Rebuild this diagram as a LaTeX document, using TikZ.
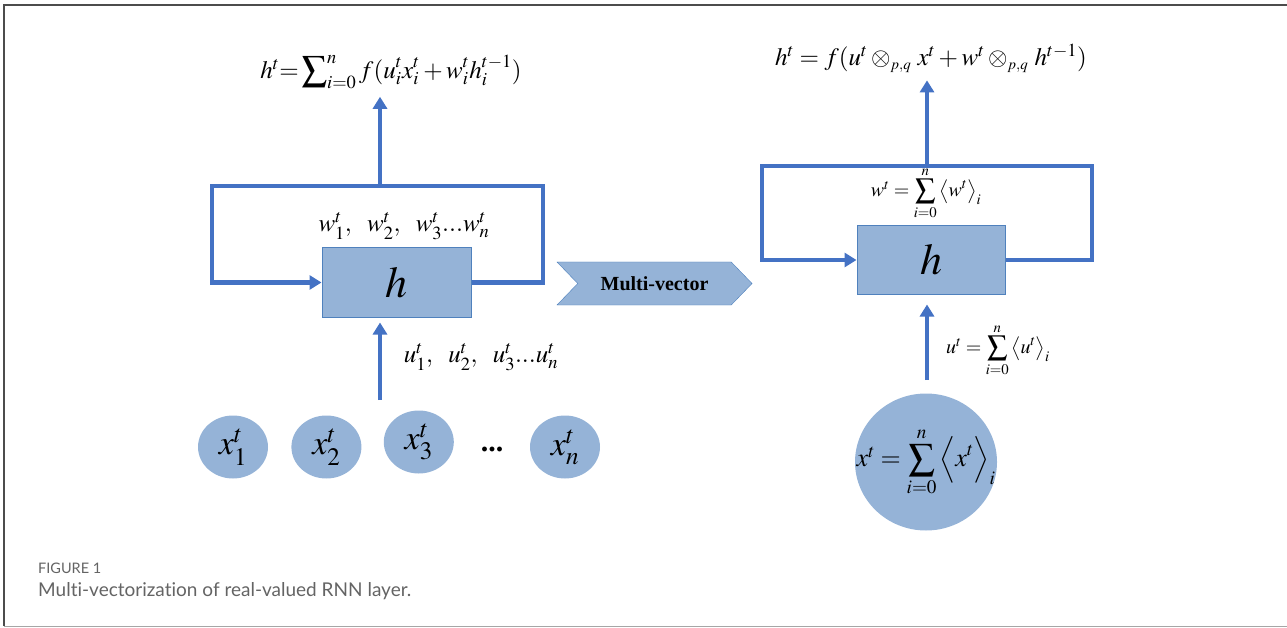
\documentclass[tikz,border=0pt]{standalone}
\usepackage{amsmath,amssymb}
\usepackage{mathptmx}
\usepackage{fontspec}
\setmainfont{Liberation Serif}
\newfontfamily\capfont[Ligatures=NoCommon]{Lato}
\usepackage{tikz}
\usetikzlibrary{shapes.geometric, shapes.symbols, arrows.meta, calc, positioning}

\definecolor{lineblue}{RGB}{68,114,196}
\definecolor{cellfill}{RGB}{149,179,215}
\definecolor{cellline}{RGB}{79,129,189}
\definecolor{capgray}{RGB}{100,100,100}

\newcommand{\fs}[1]{\fontsize{#1}{1.2\dimexpr#1pt\relax}\selectfont}

\begin{document}
\begin{tikzpicture}[x=1pt, y=-1pt, >={Triangle[length=12pt,width=14pt]}]
            \tikzstyle{cell} = [rectangle, draw=cellline, line width=1pt, fill=cellfill,
                                minimum width=149pt, minimum height=69pt, inner sep=0pt, font=\fs{44}]
            \tikzstyle{unit} = [ellipse, fill=cellfill, minimum width=70pt, minimum height=63pt,
                                inner sep=0pt, font=\fs{34}]
            \tikzstyle{flow} = [line width=4pt, draw=lineblue]
            \tikzstyle{eqn}  = [inner sep=0pt]

            \useasboundingbox (0,0) rectangle (1287,628);

            % frame of the figure box
            \draw [line width=2pt, draw=black!70] (4,626) -- (4,5) -- (1287,5);
            \draw [line width=1pt, draw=black!35] (4,626) -- (1287,626);

            % left: real-valued RNN cell
            \node (hL) [cell] at (396.5,282.5) {$h$};
            \node (x1) [unit] at (233,447) {$x_1^t$};
            \node (x2) [unit, right=23pt of x1] {$x_2^t$};
            \node (x3) [unit, right=22pt of x2, yshift=5pt] {$x_3^t$};
            \node (dots) [font=\fs{30}\bfseries] at (492,449) {...};
            \node (xn) [unit] at (565,447) {$x_n^t$};
            \node (wL) [eqn, font=\fs{25}] at (404,226) {$w_1^t,\ \ w_2^t,\ \ w_3^t...w_n^t$};
            \node (uL) [eqn, font=\fs{25}] at (481,357) {$u_1^t,\ \ u_2^t,\ \ u_3^t...u_n^t$};
            \node (fL) [eqn, font=\fs{25}] at (391,72)
                       {$h^t{=}\displaystyle\sum\nolimits_{i=0}^{n} f(u_i^t x_i^t + w_i^t h_i^{t-1})$};

            \coordinate (ltL) at (212,186);
            \coordinate (ltR) at (543,186);
            \coordinate (outL) at (380,186);
            \coordinate (inL) at (380,400);

            \draw [flow, ->] (hL.east) -| (ltR) -- (ltL) |- (hL.west);
            \draw [flow, ->, shorten >=8pt] (outL) -- (outL |- fL.south);
            \draw [flow, ->, shorten >=5pt] (inL) -- (inL |- hL.south);

            % multi-vector transform
            \node (mv) [signal, signal from=west, signal to=east, signal pointer angle=92,
                        draw=cellline, fill=cellfill, minimum width=195pt, minimum height=43pt,
                        inner sep=0pt, font=\fs{20}\bfseries] at (654.5,283.5) {Multi-vector};

            % right: multi-vector RNN cell
            \node (hR) [cell, minimum width=148pt, minimum height=68pt] at (931,260) {$h$};
            \node (xR) [unit, minimum width=142pt, minimum height=137pt,
                        label={[font=\fs{26}]center:$x^t=\displaystyle\sum_{i=0}^{n}\Big\langle x^t\Big\rangle_i$}]
                       at (926,462) {};
            \node (wR) [eqn, font=\fs{20}] at (926,193)
                       {$w^t=\displaystyle\sum_{i=0}^{n}\big\langle w^t\big\rangle_i$};
            \node (uR) [eqn, font=\fs{20}] at (998,350)
                       {$u^t=\displaystyle\sum_{i=0}^{n}\big\langle u^t\big\rangle_i$};
            \node (fR) [eqn, font=\fs{25}] at (931,58)
                       {$h^t=f(u^t\otimes_{\scriptscriptstyle p,q}\,x^t+w^t\otimes_{\scriptscriptstyle p,q}\,h^{t-1})$};

            \coordinate (rtL) at (762,166);
            \coordinate (rtR) at (1092,166);
            \coordinate (outR) at (927,166);
            \coordinate (inR) at (927,380);

            \draw [flow, ->] (hR.east) -| (rtR) -- (rtL) |- (hR.west);
            \draw [flow, ->, shorten >=8pt] (outR) -- (outR |- fR.south);
            \draw [flow, ->, shorten >=10pt] (inR) -- (inR |- hR.south);

            % caption
            \node (fig) [anchor=base west, inner sep=0pt, text=capgray, font=\capfont\fs{14.5}] at (38,573) {FIGURE 1};
            \node (cap) [anchor=base west, inner sep=0pt, text=capgray, font=\capfont\fs{19}] at (38,596)
                        {Multi-vectorization of real-valued RNN layer.};
        \end{tikzpicture}
\end{document}
